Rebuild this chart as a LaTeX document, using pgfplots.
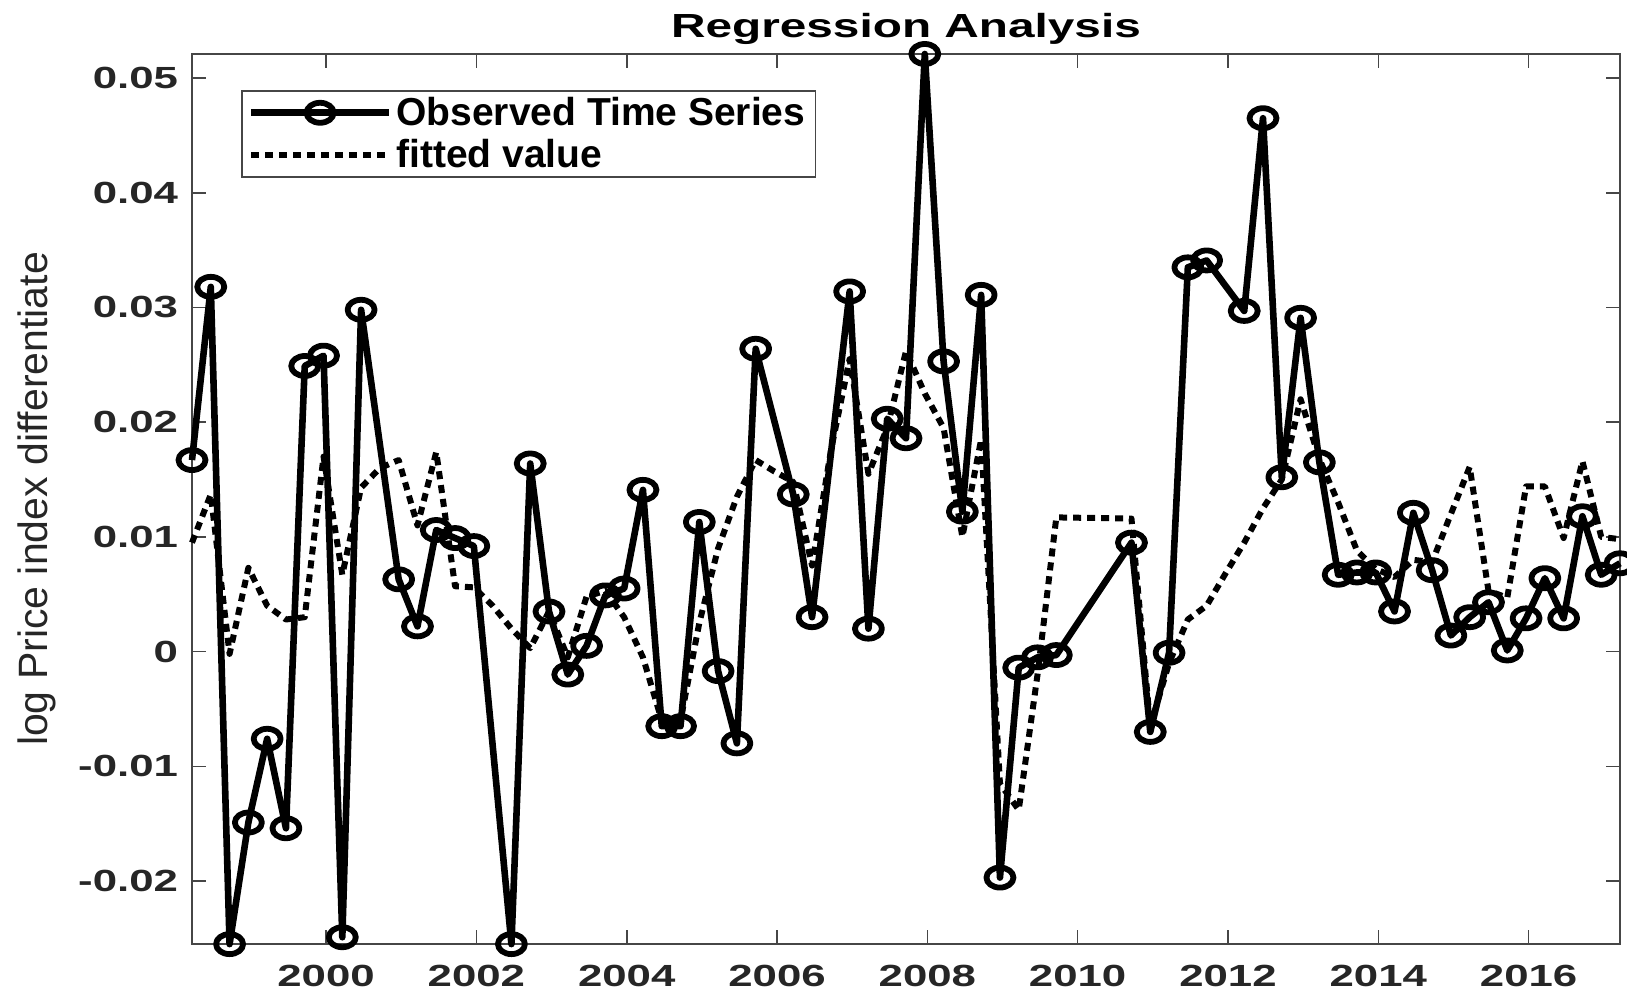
\documentclass[border=0pt]{standalone}
\usepackage{fontspec}
\setmainfont{Liberation Sans}[FakeStretch=1.43]
\newfontfamily\plainsans{Liberation Sans}
\usepackage{pgfplots}
\pgfplotsset{compat=1.18}
\usepackage{pgfplotstable}
\definecolor{axgray}{RGB}{38,38,38}
\definecolor{framegray}{RGB}{70,70,70}

\pgfplotstableread{
x y
1998.216 0.0167
1998.466 0.0318
1998.716 -0.0255
1998.966 -0.0149
1999.216 -0.0076
1999.466 -0.0154
1999.716 0.0249
1999.966 0.0258
2000.216 -0.0249
2000.466 0.0298
2000.966 0.0063
2001.216 0.0022
2001.466 0.0106
2001.716 0.0099
2001.966 0.0092
2002.466 -0.0255
2002.716 0.0164
2002.966 0.0035
2003.216 -0.0020
2003.466 0.0005
2003.716 0.0049
2003.966 0.0055
2004.216 0.0141
2004.466 -0.0065
2004.716 -0.0065
2004.966 0.0113
2005.216 -0.0017
2005.466 -0.0080
2005.716 0.0264
2006.216 0.0137
2006.466 0.0030
2006.966 0.0314
2007.216 0.0020
2007.466 0.0203
2007.716 0.0186
2007.966 0.0521
2008.216 0.0253
2008.466 0.0122
2008.716 0.0311
2008.966 -0.0197
2009.216 -0.0014
2009.466 -0.0005
2009.716 -0.0003
2010.716 0.0095
2010.966 -0.0070
2011.216 -0.0001
2011.466 0.0335
2011.716 0.0341
2012.216 0.0297
2012.466 0.0465
2012.716 0.0152
2012.966 0.0291
2013.216 0.0165
2013.466 0.0067
2013.716 0.0069
2013.966 0.0069
2014.216 0.0035
2014.466 0.0121
2014.716 0.0071
2014.966 0.0014
2015.216 0.0030
2015.466 0.0043
2015.716 0.0001
2015.966 0.0029
2016.216 0.0064
2016.466 0.0029
2016.716 0.0118
2016.966 0.0067
2017.216 0.0077
}\observed

\pgfplotstableread{
x y
1998.216 0.0095
1998.466 0.0137
1998.716 -0.0002
1998.966 0.0073
1999.216 0.0040
1999.466 0.0028
1999.716 0.0030
1999.966 0.0170
2000.216 0.0067
2000.466 0.0143
2000.716 0.0160
2000.966 0.0167
2001.216 0.0110
2001.466 0.0174
2001.716 0.0057
2001.966 0.0056
2002.216 0.0040
2002.466 0.0020
2002.716 0.0003
2002.966 0.0035
2003.216 -0.0005
2003.466 0.0048
2003.716 0.0053
2003.966 0.0030
2004.216 -0.0005
2004.466 -0.0060
2004.716 -0.0060
2004.966 0.0025
2005.216 0.0090
2005.466 0.0135
2005.716 0.0167
2005.966 0.0157
2006.216 0.0148
2006.466 0.0075
2006.716 0.0175
2006.966 0.0255
2007.216 0.0155
2007.466 0.0195
2007.716 0.0262
2007.966 0.0225
2008.216 0.0195
2008.466 0.0100
2008.716 0.0185
2008.966 -0.0115
2009.216 -0.0138
2009.466 -0.0020
2009.716 0.0117
2010.716 0.0116
2010.966 -0.0065
2011.216 -0.0010
2011.466 0.0028
2011.716 0.0040
2011.966 0.0068
2012.216 0.0095
2012.466 0.0125
2012.716 0.0150
2012.966 0.0220
2013.216 0.0168
2013.466 0.0130
2013.716 0.0088
2013.966 0.0072
2014.216 0.0065
2014.466 0.0080
2014.716 0.0078
2014.966 0.0120
2015.216 0.0161
2015.466 0.0053
2015.716 0.0047
2015.966 0.0144
2016.216 0.0144
2016.466 0.0099
2016.716 0.0166
2016.966 0.0100
2017.216 0.0098
}\fitted

\begin{document}
\begin{tikzpicture}
\begin{axis}[
  scale only axis,
  width=714pt, height=445pt,
  xmin=1998.216, xmax=2017.216,
  ymin=-0.02549, ymax=0.0521,
  clip=false,
  xtick={2000,2002,2004,2006,2008,2010,2012,2014,2016},
  ytick={-0.02,-0.01,0,0.01,0.02,0.03,0.04,0.05},
  scaled x ticks=false, scaled y ticks=false,
  /pgf/number format/assume math mode=true,
  xticklabel style={/pgf/number format/1000 sep={}, yshift=-7pt},
  yticklabel style={/pgf/number format/fixed, /pgf/number format/precision=2, xshift=-3.5pt},
  ticklabel style={font=\fontsize{15.3}{18}\selectfont\bfseries, text=axgray},
  tick align=inside,
  major tick length=7pt,
  tick style={framegray, line width=0.8pt},
  axis line style={framegray, line width=0.8pt},
  title={Regression Analysis},
  title style={font=\fontsize{16.7}{20}\selectfont\bfseries, text=black, at={(0.5,1)}, anchor=base, yshift=2pt},
  ylabel={log Price index differentiate},
  ylabel style={font=\plainsans\fontsize{20.5}{24}\selectfont, text=axgray, at={(axis description cs:-0.1083,0.5)}, anchor=center},
  legend style={at={(axis description cs:0.0343,0.9596)}, anchor=north west,
    draw=framegray, line width=0.8pt, fill=white,
    font=\plainsans\bfseries\fontsize{19.5}{22}\selectfont, text=black,
    inner xsep=3pt, inner ysep=1.2pt, row sep=1.6pt, nodes={inner sep=2pt}},
  legend cell align=left,
  legend image code/.code={\draw[mark repeat=2,mark phase=2,#1] plot coordinates {(0pt,0pt) (34.5pt,0pt) (69pt,0pt)};},
]
\addplot[black, line width=3.3pt, line join=round, mark=o, mark size=5pt,
  mark options={solid, line width=2.9pt, xscale=1.35}] table {\observed};
\addplot[black, line width=3pt, line join=round, dash pattern=on 4pt off 3pt] table {\fitted};
\legend{Observed Time Series, fitted value}
\end{axis}
\pgfresetboundingbox
\path[use as bounding box] ([xshift=-96pt,yshift=-26pt]current axis.south west) rectangle ([xshift=3.5pt,yshift=27pt]current axis.north east);
\end{tikzpicture}
\end{document}
